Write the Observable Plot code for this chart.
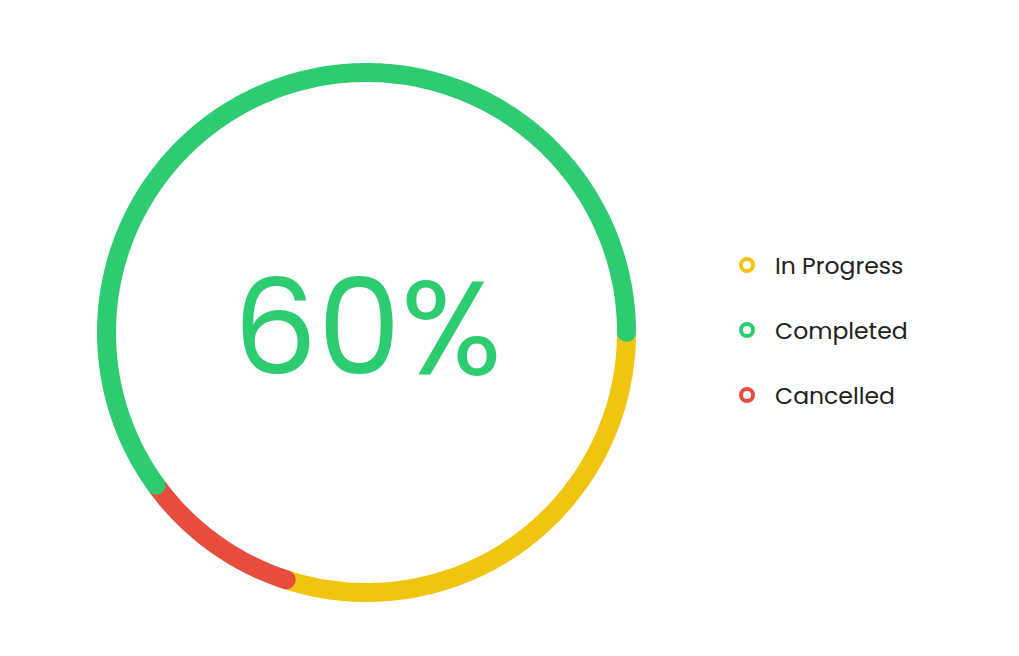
<!DOCTYPE html>
<html>
<head>
<meta charset="utf-8">
<script src="https://cdn.jsdelivr.net/npm/d3@7"></script>
<script src="https://cdn.jsdelivr.net/npm/@observablehq/plot@0.6"></script>
<style>
  html, body { margin: 0; padding: 0; background: #fff; }
  #wrap { position: relative; width: 1019px; height: 656px; }
  #legend { position: absolute; left: 739px; top: 250px; font-family: Poppins, "Inter", sans-serif; font-size: 23.5px; color: #222; }
  .item { display: flex; align-items: center; }
  .sw { width: 8px; height: 8px; border-radius: 50%; border: 4.5px solid; box-sizing: content-box; margin-right: 20px; }
</style>
</head>
<body>
<div id="wrap"></div>
<script>
const categories = ["In Progress", "Cancelled", "Completed"];
const values = [30, 10, 60];
const colors = ["#F1C40F", "#E74C3C", "#2ECC71"];
const legendOrder = ["In Progress", "Completed", "Cancelled"];
const centerLabel = "60%";

// Build arc points from the cumulative values (start at 3 o'clock, clockwise)
const total = d3.sum(values);
const pts = [];
let acc = 0;
categories.forEach((c, i) => {
  const a0 = acc / total, a1 = (acc + values[i]) / total;
  const n = Math.max(2, Math.ceil((a1 - a0) * 360));
  for (let k = 0; k <= n; k++) {
    const t = a0 + (a1 - a0) * k / n;
    const ang = Math.PI / 2 + t * 2 * Math.PI;
    pts.push({cat: c, x: Math.sin(ang), y: Math.cos(ang)});
  }
  acc += values[i];
});

const chart = Plot.plot({
  width: 1019,
  height: 656,
  marginLeft: 106,
  marginRight: 393,
  marginTop: 72,
  marginBottom: 64,
  x: {domain: [-1, 1], axis: null},
  y: {domain: [-1, 1], axis: null},
  color: {domain: categories, range: colors},
  style: {background: "#fff"},
  marks: [
    Plot.line(pts, {x: "x", y: "y", z: "cat", stroke: "cat", strokeWidth: 19, strokeLinecap: "round", curve: "linear"}),
    Plot.text([centerLabel], {x: () => 0, y: () => 0, text: d => d, fontSize: 133, fill: colors[2], fontFamily: "Poppins, Inter, sans-serif", fontWeight: 400, dx: 1, dy: -1})
  ]
});
const wrap = document.getElementById("wrap");
wrap.appendChild(chart);

const leg = document.createElement("div");
leg.id = "legend";
legendOrder.forEach((c, i) => {
  const it = document.createElement("div");
  it.className = "item";
  it.style.height = "30px";
  it.style.marginBottom = i < legendOrder.length - 1 ? "35px" : "0";
  const sw = document.createElement("span");
  sw.className = "sw";
  sw.style.borderColor = colors[categories.indexOf(c)];
  const tx = document.createElement("span");
  tx.textContent = c;
  it.appendChild(sw); it.appendChild(tx);
  leg.appendChild(it);
});
wrap.appendChild(leg);
</script>
</body>
</html>
